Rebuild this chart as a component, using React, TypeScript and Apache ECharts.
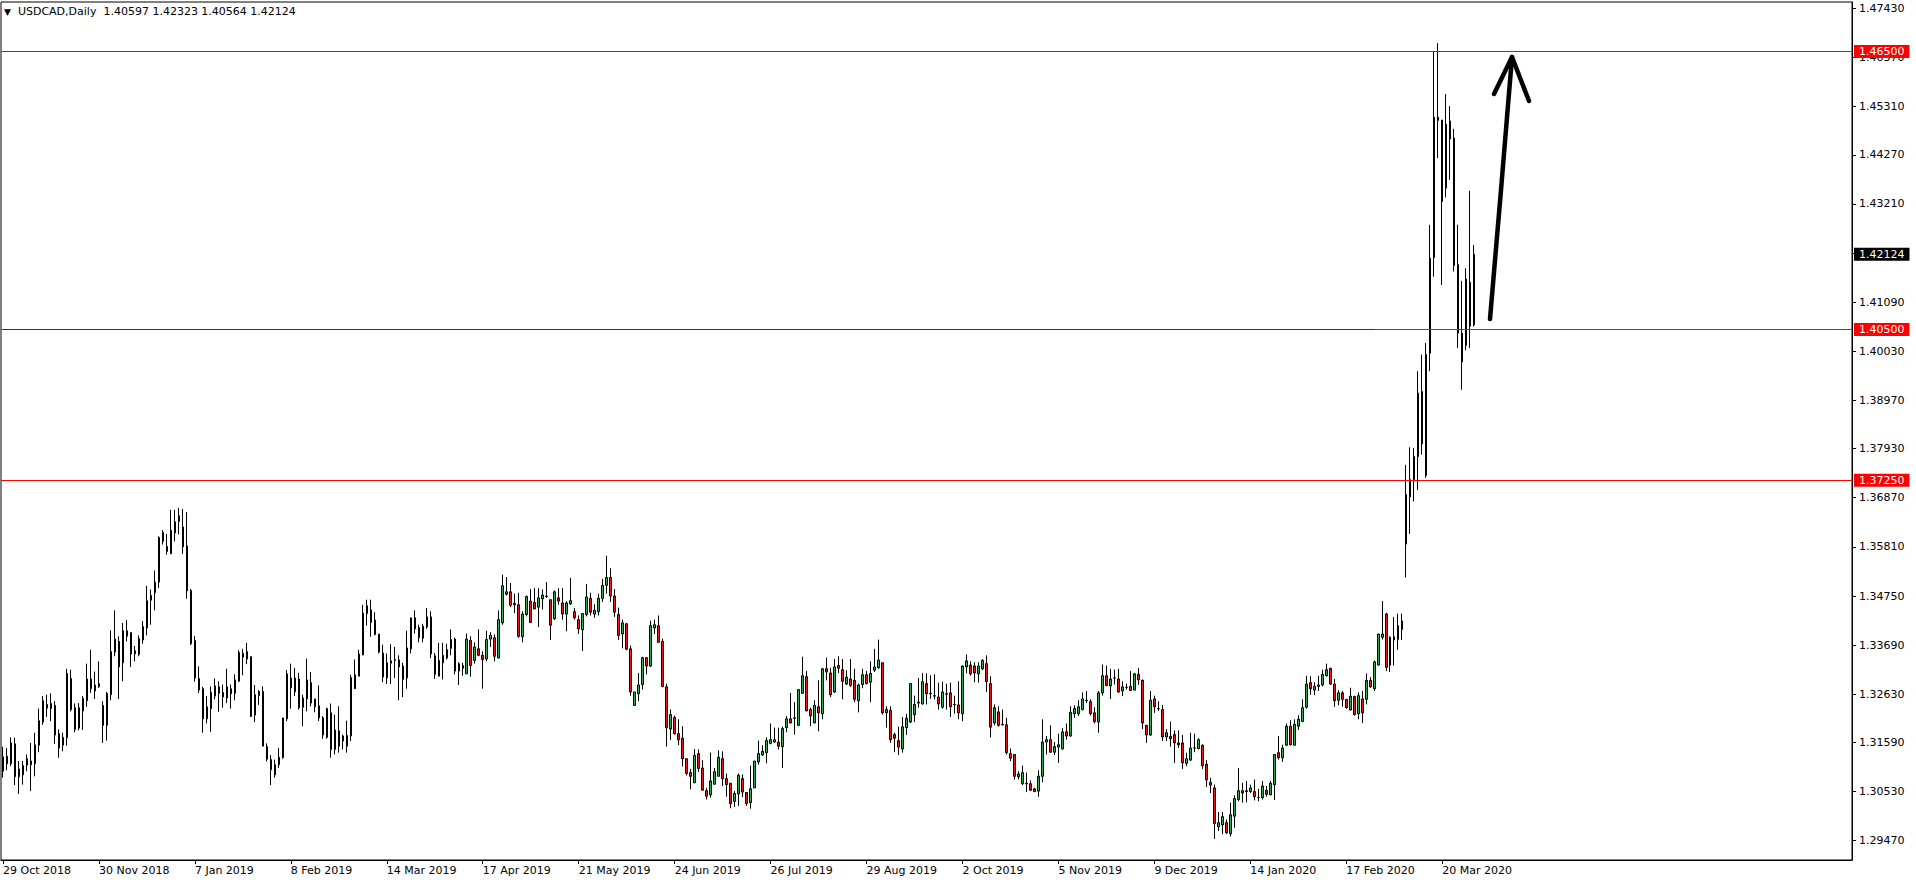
import React, { useEffect, useRef } from "react";
import * as echarts from "echarts";

const symbolName = "USDCAD,Daily";
const xLabels = [
  "29 Oct 2018", "30 Nov 2018", "7 Jan 2019", "8 Feb 2019", "14 Mar 2019", "17 Apr 2019",
  "21 May 2019", "24 Jun 2019", "26 Jul 2019", "29 Aug 2019", "2 Oct 2019", "5 Nov 2019",
  "9 Dec 2019", "14 Jan 2020", "17 Feb 2020", "20 Mar 2020",
];
const barsPerLabel = 24;
const totalSlots = 463;
const yTicks = [
  1.4743, 1.4637, 1.4531, 1.4427, 1.4321, 1.4215, 1.4109, 1.4003, 1.3897, 1.3793,
  1.3687, 1.3581, 1.3475, 1.3369, 1.3263, 1.3159, 1.3053, 1.2947,
];
const redLevels = [1.465, 1.405, 1.3725];
const darkLevel = 1.405;
const darkLevelBars = [0, 343];
const yMin = 1.29054;
const yMax = 1.47566;

// [open, close, low, high]
const candles: number[][] = [
  [1.3097, 1.3128, 1.3083, 1.3150], [1.3129, 1.3113, 1.3099, 1.3147], [1.3113, 1.3158, 1.3108, 1.3170],
  [1.3156, 1.3085, 1.3067, 1.3169], [1.3085, 1.3102, 1.3048, 1.3119], [1.3089, 1.3109, 1.3068, 1.3119],
  [1.3110, 1.3124, 1.3097, 1.3133], [1.3119, 1.3111, 1.3054, 1.3158], [1.3113, 1.3154, 1.3086, 1.3180],
  [1.3153, 1.3206, 1.3138, 1.3232], [1.3203, 1.3249, 1.3197, 1.3259], [1.3241, 1.3233, 1.3214, 1.3262],
  [1.3232, 1.3243, 1.3205, 1.3265], [1.3239, 1.3175, 1.3156, 1.3248], [1.3178, 1.3147, 1.3126, 1.3187],
  [1.3153, 1.3170, 1.3140, 1.3180], [1.3169, 1.3308, 1.3152, 1.3318], [1.3297, 1.3230, 1.3226, 1.3316],
  [1.3234, 1.3187, 1.3181, 1.3243], [1.3190, 1.3234, 1.3185, 1.3244], [1.3227, 1.3254, 1.3186, 1.3259],
  [1.3249, 1.3296, 1.3236, 1.3329], [1.3296, 1.3275, 1.3266, 1.3359], [1.3270, 1.3283, 1.3253, 1.3312],
  [1.3279, 1.3286, 1.3277, 1.3334], [1.3239, 1.3196, 1.3158, 1.3248], [1.3196, 1.3265, 1.3163, 1.3268],
  [1.3262, 1.3355, 1.3250, 1.3401], [1.3354, 1.3382, 1.3345, 1.3444], [1.3377, 1.3322, 1.3253, 1.3388],
  [1.3331, 1.3400, 1.3291, 1.3417], [1.3400, 1.3388, 1.3377, 1.3423], [1.3396, 1.3350, 1.3322, 1.3396],
  [1.3350, 1.3357, 1.3334, 1.3367], [1.3349, 1.3383, 1.3345, 1.3390], [1.3380, 1.3409, 1.3372, 1.3421],
  [1.3406, 1.3465, 1.3390, 1.3497], [1.3466, 1.3476, 1.3413, 1.3489], [1.3482, 1.3505, 1.3444, 1.3530],
  [1.3505, 1.3601, 1.3492, 1.3604], [1.3593, 1.3612, 1.3586, 1.3617], [1.3582, 1.3571, 1.3564, 1.3609],
  [1.3566, 1.3617, 1.3566, 1.3661], [1.3611, 1.3635, 1.3593, 1.3661], [1.3636, 1.3648, 1.3608, 1.3665],
  [1.3624, 1.3581, 1.3566, 1.3663], [1.3583, 1.3486, 1.3469, 1.3656], [1.3487, 1.3372, 1.3369, 1.3490],
  [1.3379, 1.3298, 1.3290, 1.3389], [1.3297, 1.3272, 1.3266, 1.3323], [1.3275, 1.3210, 1.3180, 1.3279],
  [1.3210, 1.3236, 1.3200, 1.3259], [1.3232, 1.3267, 1.3182, 1.3280], [1.3259, 1.3281, 1.3252, 1.3297],
  [1.3279, 1.3265, 1.3225, 1.3291], [1.3267, 1.3257, 1.3234, 1.3284], [1.3255, 1.3279, 1.3244, 1.3318],
  [1.3275, 1.3264, 1.3232, 1.3284], [1.3265, 1.3294, 1.3250, 1.3306], [1.3291, 1.3353, 1.3290, 1.3358],
  [1.3351, 1.3343, 1.3304, 1.3361], [1.3339, 1.3355, 1.3328, 1.3374], [1.3344, 1.3215, 1.3214, 1.3344],
  [1.3218, 1.3262, 1.3203, 1.3283], [1.3260, 1.3269, 1.3240, 1.3272], [1.3269, 1.3151, 1.3151, 1.3280],
  [1.3150, 1.3123, 1.3118, 1.3157], [1.3122, 1.3100, 1.3067, 1.3132], [1.3089, 1.3111, 1.3083, 1.3122],
  [1.3111, 1.3127, 1.3104, 1.3147], [1.3126, 1.3212, 1.3124, 1.3212], [1.3210, 1.3307, 1.3205, 1.3315],
  [1.3298, 1.3277, 1.3232, 1.3329], [1.3268, 1.3298, 1.3259, 1.3320], [1.3296, 1.3234, 1.3230, 1.3309],
  [1.3235, 1.3255, 1.3194, 1.3262], [1.3253, 1.3294, 1.3226, 1.3340], [1.3288, 1.3244, 1.3237, 1.3311],
  [1.3253, 1.3236, 1.3224, 1.3253], [1.3238, 1.3212, 1.3205, 1.3282], [1.3212, 1.3175, 1.3167, 1.3216],
  [1.3170, 1.3232, 1.3167, 1.3234], [1.3223, 1.3144, 1.3126, 1.3243], [1.3144, 1.3186, 1.3133, 1.3219],
  [1.3184, 1.3151, 1.3137, 1.3237], [1.3173, 1.3162, 1.3144, 1.3176], [1.3151, 1.3174, 1.3137, 1.3206],
  [1.3173, 1.3299, 1.3162, 1.3305], [1.3275, 1.3305, 1.3275, 1.3338], [1.3302, 1.3350, 1.3302, 1.3359],
  [1.3348, 1.3438, 1.3347, 1.3456], [1.3437, 1.3454, 1.3411, 1.3467], [1.3445, 1.3418, 1.3387, 1.3467],
  [1.3423, 1.3392, 1.3390, 1.3440], [1.3393, 1.3354, 1.3351, 1.3393], [1.3352, 1.3300, 1.3289, 1.3370],
  [1.3298, 1.3331, 1.3285, 1.3351], [1.3330, 1.3335, 1.3285, 1.3371], [1.3336, 1.3338, 1.3298, 1.3365],
  [1.3337, 1.3322, 1.3250, 1.3347], [1.3324, 1.3295, 1.3257, 1.3331], [1.3298, 1.3363, 1.3275, 1.3400],
  [1.3361, 1.3428, 1.3351, 1.3428], [1.3428, 1.3404, 1.3394, 1.3444], [1.3407, 1.3385, 1.3375, 1.3413],
  [1.3384, 1.3410, 1.3375, 1.3415], [1.3408, 1.3430, 1.3404, 1.3449], [1.3430, 1.3350, 1.3341, 1.3442],
  [1.3346, 1.3306, 1.3296, 1.3352], [1.3302, 1.3336, 1.3302, 1.3374], [1.3331, 1.3347, 1.3295, 1.3374],
  [1.3341, 1.3359, 1.3338, 1.3372], [1.3362, 1.3381, 1.3347, 1.3403], [1.3382, 1.3313, 1.3306, 1.3385],
  [1.3313, 1.3329, 1.3283, 1.3332], [1.3325, 1.3319, 1.3303, 1.3331], [1.3307, 1.3382, 1.3307, 1.3394],
  [1.3379, 1.3325, 1.3301, 1.3388], [1.3336, 1.3365, 1.3329, 1.3375], [1.3361, 1.3347, 1.3345, 1.3403],
  [1.3347, 1.3338, 1.3275, 1.3356], [1.3339, 1.3381, 1.3334, 1.3400], [1.3382, 1.3390, 1.3365, 1.3397],
  [1.3385, 1.3345, 1.3334, 1.3392], [1.3341, 1.3424, 1.3341, 1.3444], [1.3417, 1.3497, 1.3413, 1.3521],
  [1.3479, 1.3484, 1.3476, 1.3516], [1.3484, 1.3455, 1.3451, 1.3503], [1.3459, 1.3456, 1.3438, 1.3480],
  [1.3456, 1.3388, 1.3385, 1.3482], [1.3387, 1.3436, 1.3375, 1.3442], [1.3435, 1.3474, 1.3431, 1.3476],
  [1.3464, 1.3418, 1.3418, 1.3490], [1.3461, 1.3447, 1.3447, 1.3492], [1.3451, 1.3471, 1.3408, 1.3492],
  [1.3469, 1.3477, 1.3446, 1.3489], [1.3475, 1.3474, 1.3471, 1.3505], [1.3467, 1.3412, 1.3380, 1.3467],
  [1.3426, 1.3484, 1.3423, 1.3487], [1.3471, 1.3464, 1.3456, 1.3492], [1.3460, 1.3436, 1.3424, 1.3492],
  [1.3436, 1.3460, 1.3399, 1.3464], [1.3458, 1.3465, 1.3456, 1.3514], [1.3441, 1.3428, 1.3424, 1.3449],
  [1.3424, 1.3404, 1.3393, 1.3433], [1.3402, 1.3437, 1.3356, 1.3437], [1.3435, 1.3473, 1.3431, 1.3501],
  [1.3470, 1.3440, 1.3433, 1.3482], [1.3436, 1.3444, 1.3428, 1.3457], [1.3441, 1.3470, 1.3433, 1.3480],
  [1.3470, 1.3498, 1.3462, 1.3512], [1.3498, 1.3515, 1.3480, 1.3562], [1.3515, 1.3475, 1.3462, 1.3535],
  [1.3475, 1.3440, 1.3430, 1.3490], [1.3435, 1.3390, 1.3380, 1.3450], [1.3393, 1.3417, 1.3362, 1.3424],
  [1.3415, 1.3360, 1.3358, 1.3417], [1.3361, 1.3268, 1.3260, 1.3368], [1.3239, 1.3268, 1.3239, 1.3268],
  [1.3264, 1.3283, 1.3248, 1.3309], [1.3284, 1.3342, 1.3273, 1.3344], [1.3342, 1.3324, 1.3306, 1.3342],
  [1.3324, 1.3411, 1.3322, 1.3422], [1.3406, 1.3413, 1.3393, 1.3424], [1.3411, 1.3375, 1.3374, 1.3433],
  [1.3377, 1.3280, 1.3278, 1.3383], [1.3279, 1.3191, 1.3150, 1.3286], [1.3188, 1.3219, 1.3164, 1.3230],
  [1.3213, 1.3178, 1.3176, 1.3217], [1.3178, 1.3165, 1.3153, 1.3209], [1.3168, 1.3124, 1.3107, 1.3194],
  [1.3124, 1.3092, 1.3088, 1.3124], [1.3094, 1.3086, 1.3058, 1.3102], [1.3072, 1.3131, 1.3072, 1.3145],
  [1.3135, 1.3103, 1.3095, 1.3144], [1.3104, 1.3056, 1.3056, 1.3121], [1.3055, 1.3043, 1.3036, 1.3061],
  [1.3046, 1.3076, 1.3040, 1.3137], [1.3069, 1.3096, 1.3068, 1.3104], [1.3086, 1.3127, 1.3086, 1.3142],
  [1.3124, 1.3081, 1.3065, 1.3140], [1.3081, 1.3068, 1.3042, 1.3092], [1.3071, 1.3027, 1.3017, 1.3071],
  [1.3032, 1.3049, 1.3020, 1.3054], [1.3048, 1.3088, 1.3022, 1.3092], [1.3081, 1.3052, 1.3041, 1.3090],
  [1.3051, 1.3027, 1.3022, 1.3052], [1.3029, 1.3059, 1.3016, 1.3109], [1.3061, 1.3119, 1.3061, 1.3119],
  [1.3117, 1.3135, 1.3111, 1.3163], [1.3132, 1.3140, 1.3130, 1.3153], [1.3137, 1.3163, 1.3114, 1.3170],
  [1.3157, 1.3165, 1.3155, 1.3200], [1.3160, 1.3165, 1.3158, 1.3191], [1.3160, 1.3151, 1.3144, 1.3191],
  [1.3150, 1.3189, 1.3104, 1.3193], [1.3191, 1.3210, 1.3181, 1.3216], [1.3210, 1.3201, 1.3200, 1.3266],
  [1.3212, 1.3211, 1.3176, 1.3246], [1.3196, 1.3273, 1.3194, 1.3273], [1.3265, 1.3303, 1.3265, 1.3344],
  [1.3301, 1.3227, 1.3227, 1.3313], [1.3230, 1.3216, 1.3194, 1.3234], [1.3201, 1.3239, 1.3201, 1.3250],
  [1.3236, 1.3223, 1.3183, 1.3293], [1.3221, 1.3318, 1.3209, 1.3320], [1.3318, 1.3311, 1.3293, 1.3342],
  [1.3309, 1.3262, 1.3257, 1.3320], [1.3268, 1.3322, 1.3266, 1.3339], [1.3325, 1.3319, 1.3309, 1.3345],
  [1.3316, 1.3291, 1.3252, 1.3339], [1.3285, 1.3300, 1.3283, 1.3315], [1.3296, 1.3282, 1.3279, 1.3339],
  [1.3293, 1.3252, 1.3246, 1.3318], [1.3249, 1.3283, 1.3224, 1.3286], [1.3284, 1.3305, 1.3276, 1.3318],
  [1.3305, 1.3286, 1.3284, 1.3313], [1.3289, 1.3308, 1.3246, 1.3334], [1.3315, 1.3322, 1.3311, 1.3361],
  [1.3320, 1.3337, 1.3318, 1.3381], [1.3331, 1.3223, 1.3219, 1.3331], [1.3223, 1.3230, 1.3191, 1.3237],
  [1.3228, 1.3165, 1.3158, 1.3237], [1.3176, 1.3168, 1.3138, 1.3180], [1.3163, 1.3149, 1.3132, 1.3193],
  [1.3145, 1.3193, 1.3137, 1.3214], [1.3191, 1.3211, 1.3175, 1.3221], [1.3203, 1.3286, 1.3201, 1.3286],
  [1.3219, 1.3241, 1.3203, 1.3260], [1.3244, 1.3246, 1.3234, 1.3298], [1.3242, 1.3290, 1.3241, 1.3309],
  [1.3286, 1.3264, 1.3241, 1.3308], [1.3265, 1.3264, 1.3253, 1.3304], [1.3260, 1.3259, 1.3252, 1.3306],
  [1.3257, 1.3242, 1.3230, 1.3288], [1.3235, 1.3268, 1.3232, 1.3290], [1.3264, 1.3263, 1.3230, 1.3286],
  [1.3266, 1.3236, 1.3214, 1.3288], [1.3241, 1.3240, 1.3221, 1.3260], [1.3240, 1.3223, 1.3209, 1.3291],
  [1.3221, 1.3324, 1.3205, 1.3325], [1.3322, 1.3335, 1.3308, 1.3349], [1.3326, 1.3307, 1.3303, 1.3334],
  [1.3324, 1.3309, 1.3289, 1.3332], [1.3307, 1.3324, 1.3288, 1.3332], [1.3318, 1.3336, 1.3315, 1.3339],
  [1.3329, 1.3290, 1.3268, 1.3347], [1.3286, 1.3192, 1.3170, 1.3302], [1.3201, 1.3234, 1.3196, 1.3241],
  [1.3225, 1.3196, 1.3193, 1.3237], [1.3198, 1.3197, 1.3196, 1.3230], [1.3197, 1.3137, 1.3133, 1.3212],
  [1.3135, 1.3125, 1.3119, 1.3146], [1.3133, 1.3086, 1.3079, 1.3133], [1.3085, 1.3091, 1.3079, 1.3097],
  [1.3070, 1.3094, 1.3067, 1.3109], [1.3071, 1.3070, 1.3052, 1.3094], [1.3070, 1.3056, 1.3054, 1.3077],
  [1.3059, 1.3053, 1.3053, 1.3061], [1.3054, 1.3086, 1.3042, 1.3099], [1.3086, 1.3160, 1.3073, 1.3209],
  [1.3160, 1.3165, 1.3133, 1.3173], [1.3165, 1.3138, 1.3137, 1.3196], [1.3138, 1.3150, 1.3132, 1.3160],
  [1.3149, 1.3154, 1.3115, 1.3178], [1.3145, 1.3182, 1.3144, 1.3190], [1.3182, 1.3173, 1.3165, 1.3200],
  [1.3173, 1.3224, 1.3171, 1.3237], [1.3221, 1.3232, 1.3212, 1.3239], [1.3221, 1.3236, 1.3216, 1.3250],
  [1.3230, 1.3253, 1.3228, 1.3267], [1.3250, 1.3249, 1.3244, 1.3270], [1.3247, 1.3221, 1.3217, 1.3252],
  [1.3223, 1.3204, 1.3200, 1.3235], [1.3203, 1.3266, 1.3180, 1.3270], [1.3266, 1.3303, 1.3260, 1.3327],
  [1.3303, 1.3282, 1.3280, 1.3325], [1.3281, 1.3296, 1.3253, 1.3318], [1.3298, 1.3298, 1.3284, 1.3316],
  [1.3296, 1.3268, 1.3266, 1.3318], [1.3270, 1.3279, 1.3259, 1.3291], [1.3278, 1.3278, 1.3273, 1.3286],
  [1.3280, 1.3271, 1.3270, 1.3313], [1.3272, 1.3307, 1.3272, 1.3309], [1.3306, 1.3294, 1.3283, 1.3320],
  [1.3293, 1.3201, 1.3188, 1.3295], [1.3196, 1.3175, 1.3158, 1.3196], [1.3175, 1.3250, 1.3173, 1.3270],
  [1.3253, 1.3236, 1.3223, 1.3260], [1.3232, 1.3232, 1.3227, 1.3248], [1.3230, 1.3171, 1.3162, 1.3240],
  [1.3171, 1.3180, 1.3162, 1.3188], [1.3172, 1.3167, 1.3150, 1.3204], [1.3176, 1.3158, 1.3115, 1.3185],
  [1.3158, 1.3154, 1.3147, 1.3185], [1.3158, 1.3115, 1.3102, 1.3175], [1.3114, 1.3124, 1.3108, 1.3137],
  [1.3121, 1.3147, 1.3119, 1.3180], [1.3147, 1.3147, 1.3138, 1.3178], [1.3146, 1.3165, 1.3144, 1.3168],
  [1.3153, 1.3109, 1.3102, 1.3155], [1.3112, 1.3078, 1.3063, 1.3121], [1.3073, 1.3067, 1.3050, 1.3083],
  [1.3061, 1.2984, 1.2951, 1.3068], [1.2977, 1.2986, 1.2968, 1.3009], [1.2981, 1.2999, 1.2961, 1.3009],
  [1.2986, 1.2964, 1.2962, 1.2993], [1.2962, 1.3003, 1.2956, 1.3029], [1.3000, 1.3038, 1.2975, 1.3045],
  [1.3036, 1.3055, 1.3032, 1.3104], [1.3055, 1.3050, 1.3029, 1.3072], [1.3053, 1.3055, 1.3030, 1.3076],
  [1.3053, 1.3061, 1.3050, 1.3068], [1.3053, 1.3042, 1.3034, 1.3079], [1.3040, 1.3040, 1.3032, 1.3059],
  [1.3040, 1.3065, 1.3036, 1.3076], [1.3056, 1.3047, 1.3042, 1.3065], [1.3046, 1.3071, 1.3045, 1.3076],
  [1.3068, 1.3133, 1.3035, 1.3133], [1.3137, 1.3126, 1.3122, 1.3173], [1.3126, 1.3147, 1.3117, 1.3154],
  [1.3153, 1.3194, 1.3151, 1.3200], [1.3194, 1.3154, 1.3153, 1.3207], [1.3153, 1.3198, 1.3153, 1.3209],
  [1.3194, 1.3209, 1.3186, 1.3218], [1.3204, 1.3234, 1.3203, 1.3252], [1.3235, 1.3285, 1.3232, 1.3303],
  [1.3288, 1.3275, 1.3262, 1.3302], [1.3272, 1.3280, 1.3261, 1.3289], [1.3280, 1.3283, 1.3270, 1.3303],
  [1.3283, 1.3306, 1.3280, 1.3316], [1.3303, 1.3316, 1.3301, 1.3329], [1.3319, 1.3285, 1.3283, 1.3320],
  [1.3285, 1.3249, 1.3236, 1.3296], [1.3250, 1.3266, 1.3239, 1.3272], [1.3266, 1.3252, 1.3236, 1.3270],
  [1.3252, 1.3234, 1.3232, 1.3252], [1.3229, 1.3259, 1.3228, 1.3277], [1.3258, 1.3219, 1.3217, 1.3260],
  [1.3221, 1.3260, 1.3209, 1.3267], [1.3253, 1.3223, 1.3201, 1.3270], [1.3252, 1.3293, 1.3241, 1.3308],
  [1.3293, 1.3279, 1.3277, 1.3300], [1.3275, 1.3333, 1.3270, 1.3336], [1.3326, 1.3393, 1.3325, 1.3393],
  [1.3386, 1.3393, 1.3381, 1.3464], [1.3436, 1.3321, 1.3313, 1.3439], [1.3326, 1.3386, 1.3311, 1.3388],
  [1.3380, 1.3387, 1.3325, 1.3430], [1.3381, 1.3411, 1.3359, 1.3437], [1.3403, 1.3421, 1.3380, 1.3437],
  [1.3587, 1.3694, 1.3515, 1.3758], [1.3689, 1.3726, 1.3609, 1.3796], [1.3726, 1.3776, 1.3679, 1.3794],
  [1.3776, 1.3913, 1.3704, 1.3960], [1.3916, 1.3803, 1.3780, 1.3996], [1.3735, 1.3996, 1.3730, 1.4021],
  [1.3999, 1.4204, 1.3960, 1.4276], [1.4205, 1.4508, 1.4164, 1.4650], [1.4508, 1.4501, 1.4420, 1.4668],
  [1.4502, 1.4326, 1.4146, 1.4502], [1.4355, 1.4493, 1.4335, 1.4558], [1.4500, 1.4461, 1.4373, 1.4532],
  [1.4463, 1.4188, 1.4175, 1.4483], [1.4190, 1.4042, 1.4010, 1.4276], [1.4042, 1.3980, 1.3920, 1.4155],
  [1.4016, 1.4159, 1.4005, 1.4182], [1.4152, 1.4057, 1.4010, 1.4349], [1.40597, 1.42124, 1.40564, 1.42323],
];

const FONT = '"DejaVu Sans", sans-serif';
const BULL = "#32a852";
const BEAR = "#e31b1b";

export default function App() {
  const ref = useRef<HTMLDivElement>(null);
  useEffect(() => {
    if (!ref.current) return;
    const chart = echarts.init(ref.current, null, { renderer: "svg" });
    const categories = Array.from({ length: totalSlots }, (_, i) => "b" + i);
    const showTick = (i: number) => i % barsPerLabel === 0 && i / barsPerLabel < xLabels.length;
    const last = candles[candles.length - 1];
    const fmt = (v: number) => Number(v).toFixed(5);
    const levelLabel = (bg: string, val: number) => ({
      show: true,
      position: "end" as const,
      distance: 2,
      formatter: () => fmt(val),
      color: "#fff",
      backgroundColor: bg,
      padding: [1, 5, 0, 5],
      fontFamily: FONT,
      fontSize: 11,
      lineHeight: 12,
    });
    chart.setOption({
      animation: false,
      backgroundColor: "#ffffff",
      title: {
        text: `{t|▼}  ${symbolName}  ${fmt(last[0])} ${fmt(last[3])} ${fmt(last[2])} ${fmt(last[1])}`,
        left: 4,
        top: 6,
        padding: 0,
        textStyle: {
          fontFamily: FONT,
          fontSize: 11,
          fontWeight: "normal",
          color: "#000",
          rich: { t: { fontSize: 9, fontFamily: FONT, color: "#000" } },
        },
      },
      grid: {
        left: 1,
        top: 2,
        right: 64,
        bottom: 24,
        show: true,
        borderColor: "#000",
        borderWidth: 1,
        backgroundColor: "transparent",
      },
      xAxis: {
        type: "category",
        data: categories,
        boundaryGap: true,
        axisLine: { show: true, lineStyle: { color: "#000", width: 1 } },
        axisTick: { show: true, alignWithLabel: true, interval: (i: number) => showTick(i), length: 4, lineStyle: { color: "#000" } },
        axisLabel: {
          interval: (i: number) => showTick(i),
          formatter: (_v: string, i: number) => xLabels[Math.round(i / barsPerLabel)] ?? "",
          align: "left",
          margin: 5,
          color: "#000",
          fontFamily: FONT,
          fontSize: 11,
        },
        splitLine: { show: false },
      },
      yAxis: {
        type: "value",
        position: "right",
        min: yMin,
        max: yMax,
        axisLine: { show: true, lineStyle: { color: "#000", width: 1 } },
        axisTick: { show: true, customValues: yTicks, length: 4, lineStyle: { color: "#000" } },
        axisLabel: {
          customValues: yTicks,
          formatter: (v: number) => fmt(v),
          margin: 7,
          color: "#000",
          fontFamily: FONT,
          fontSize: 11,
        },
        splitLine: { show: false },
      },
      series: [
        {
          type: "candlestick",
          data: candles,
          barWidth: 2,
          itemStyle: { color: BULL, color0: BEAR, borderColor: "#000", borderColor0: "#000", borderWidth: 1 },
          markLine: {
            silent: true,
            symbol: ["none", "none"],
            animation: false,
            precision: 5,
            data: [
              ...redLevels.map((v) => ({ yAxis: v, lineStyle: { color: "#ff0000", width: 1, type: "solid" as const }, label: levelLabel("#ff0000", v) })),
              { yAxis: last[1], lineStyle: { color: "rgba(255,255,255,0)", width: 1, type: "solid" as const }, label: levelLabel("#000000", last[1]) },
              [
                { coord: [darkLevelBars[0], darkLevel], lineStyle: { color: "#333333", width: 1, type: "solid" as const }, label: { show: false } },
                { coord: [darkLevelBars[1], darkLevel] },
              ],
            ],
          },
        },
      ],
      graphic: [
        { type: "polyline", shape: { points: [[1490, 319], [1501, 190], [1512, 57]] }, style: { stroke: "#000", lineWidth: 4.5, fill: null, lineCap: "round", lineJoin: "round" }, z: 100 },
        { type: "polyline", shape: { points: [[1494, 94], [1512, 57], [1529, 101]] }, style: { stroke: "#000", lineWidth: 4.5, fill: null, lineCap: "round", lineJoin: "round" }, z: 100 },
      ],
    });
    return () => chart.dispose();
  }, []);
  return <div ref={ref} style={{ position: "fixed", left: 0, top: 0, width: "1916px", height: "884px" }} />;
}
